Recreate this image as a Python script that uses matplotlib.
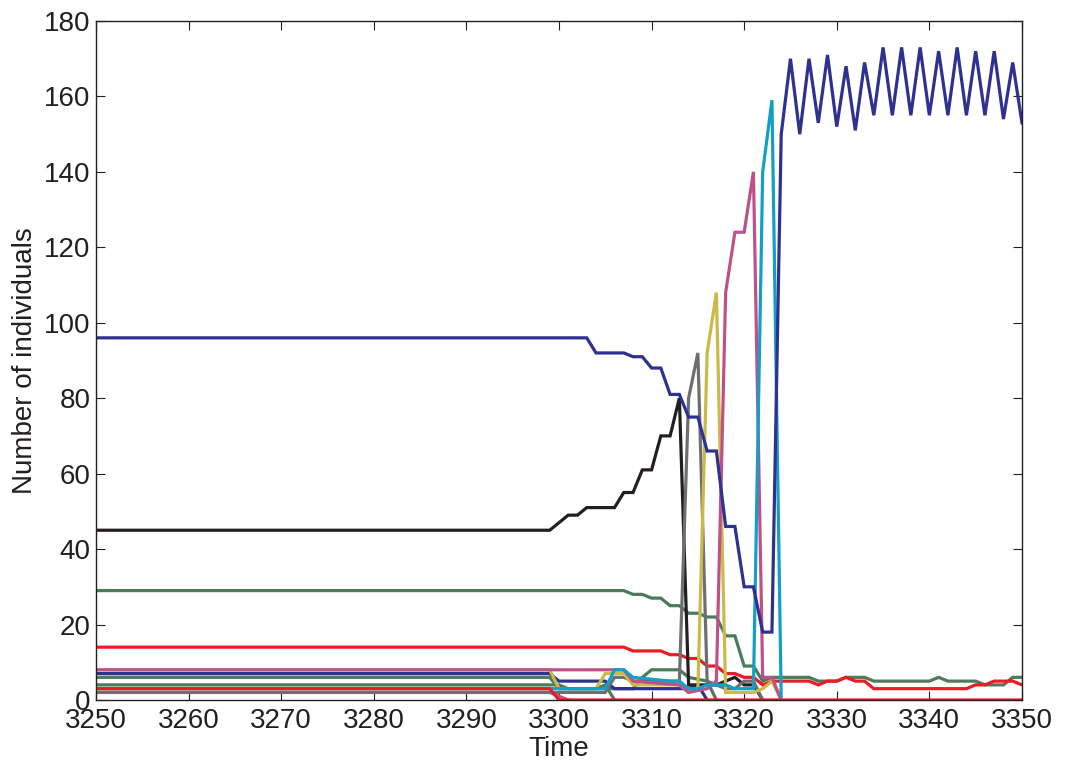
import matplotlib
matplotlib.use("Agg")
import matplotlib.pyplot as plt

# ---------------- data (time points, values) ----------------
blue_t = [3250, 3303, 3304, 3307, 3308, 3309, 3310, 3311, 3312, 3313, 3314, 3315,
          3316, 3317, 3318, 3319, 3320, 3321, 3322, 3323,
          3324, 3325, 3326, 3327, 3328, 3329, 3330, 3331, 3332, 3333, 3334, 3335,
          3336, 3337, 3338, 3339, 3340, 3341, 3342, 3343, 3344, 3345, 3346, 3347,
          3348, 3349, 3350]
blue_v = [96, 96, 92, 92, 91, 91, 88, 88, 81, 81, 75, 75,
          66, 66, 46, 46, 30, 30, 18, 18,
          150, 170, 150, 170, 153, 171, 152, 168, 151, 169, 155, 173,
          155, 173, 155, 173, 155, 172, 155, 173, 155, 172, 155, 172,
          154, 169, 153]

black_t = [3250, 3299, 3300, 3301, 3302, 3303, 3306, 3307, 3308, 3309, 3310, 3311,
           3312, 3313, 3314, 3315, 3316, 3317, 3318, 3319, 3320, 3321, 3322]
black_v = [45, 45, 47, 49, 49, 51, 51, 55, 55, 61, 61, 70,
           70, 80, 4, 4, 4, 4, 5, 6, 4, 4, 0]

green_t = [3250, 3307, 3308, 3309, 3310, 3311, 3312, 3313, 3314, 3315, 3316, 3317,
           3318, 3319, 3320, 3321, 3322, 3323, 3327, 3328, 3330, 3331, 3333, 3334,
           3340, 3341, 3342, 3345, 3346, 3348, 3349, 3350]
green_v = [29, 29, 28, 28, 27, 27, 25, 25, 23, 23, 22, 22,
           17, 17, 9, 9, 5, 6, 6, 5, 5, 6, 6, 5,
           5, 6, 5, 5, 4, 4, 6, 6]

red_t = [3250, 3307, 3308, 3311, 3312, 3313, 3314, 3315, 3316, 3317, 3318, 3319,
         3320, 3321, 3322, 3323, 3327, 3328, 3329, 3330, 3331, 3332, 3333, 3334,
         3344, 3345, 3346, 3347, 3349, 3350]
red_v = [14, 14, 13, 13, 12, 12, 11, 11, 9, 9, 7, 7,
         6, 6, 4, 5, 5, 4, 5, 5, 6, 5, 5, 3,
         3, 4, 4, 5, 5, 4]

gray_t = [3250, 3299, 3300, 3305, 3306, 3307, 3308, 3312, 3313, 3314, 3315, 3316,
          3317, 3318, 3319, 3320, 3321, 3322]
gray_v = [2, 2, 2, 2, 6, 6, 5, 5, 5, 80, 92, 5,
          4, 3, 3, 5, 5, 0]

yellow_t = [3250, 3299, 3300, 3304, 3305, 3307, 3308, 3313, 3314, 3315, 3316, 3317,
            3318, 3321, 3322, 3323, 3324]
yellow_v = [8, 8, 3, 3, 7, 7, 4, 4, 2, 3, 92, 108,
            2, 2, 3, 5, 0]

magenta_t = [3250, 3307, 3308, 3313, 3314, 3316, 3317, 3318, 3319, 3320, 3321, 3322,
             3323, 3324]
magenta_v = [8, 8, 5, 4, 2, 3, 5, 108, 124, 124, 140, 6,
             6, 0]

cyan_t = [3250, 3305, 3306, 3307, 3308, 3312, 3313, 3314, 3315, 3316, 3318, 3319,
          3321, 3322, 3323, 3324]
cyan_v = [3, 3, 8, 8, 6, 5, 5, 3, 3, 4, 4, 3,
          3, 140, 159, 0]

blue_s_t = [3250, 3299, 3300, 3305, 3306, 3314, 3315, 3316]
blue_s_v = [7, 7, 5, 5, 3, 3, 4, 0]

green_s1_t = [3250, 3299, 3300, 3304, 3305, 3306]
green_s1_v = [6, 6, 3, 3, 4, 0]

green_s2_t = [3250, 3300, 3301, 3308, 3309, 3310, 3313, 3314, 3316, 3317]
green_s2_v = [4, 4, 3, 3, 6, 8, 8, 6, 5, 0]

magenta_s_t = [3250, 3299, 3300, 3301]
magenta_s_v = [2, 2, 1, 0]

red0_t = [3250, 3299, 3300, 3350]
red0_v = [3, 3, 0, 0]

x_ticks = [3250, 3260, 3270, 3280, 3290, 3300, 3310, 3320, 3330, 3340, 3350]
y_ticks = [0, 20, 40, 60, 80, 100, 120, 140, 160, 180]

# ---------------- colours ----------------
C_BLUE = "#2E3192"
C_BLACK = "#231F20"
C_GREEN = "#4A7C5B"
C_RED = "#ED1C24"
C_GRAY = "#6D6E71"
C_YELLOW = "#CBBA48"
C_MAGENTA = "#C0508A"
C_CYAN = "#139FC8"

plt.rcParams['font.family'] = ['Liberation Sans', 'DejaVu Sans']

fig = plt.figure(figsize=(10.65, 7.63), dpi=100)
ax = fig.add_axes([0.0901, 0.0826, 0.8695, 0.8899])

lw = 2.3
series = [
    (magenta_s_t, magenta_s_v, C_MAGENTA),
    (green_s1_t, green_s1_v, C_GREEN),
    (green_s2_t, green_s2_v, C_GREEN),
    (blue_s_t, blue_s_v, C_BLUE),
    (green_t, green_v, C_GREEN),
    (red_t, red_v, C_RED),
    (black_t, black_v, C_BLACK),
    (gray_t, gray_v, C_GRAY),
    (yellow_t, yellow_v, C_YELLOW),
    (magenta_t, magenta_v, C_MAGENTA),
    (cyan_t, cyan_v, C_CYAN),
    (blue_t, blue_v, C_BLUE),
    (red0_t, red0_v, C_RED),
]
for t, v, c in series:
    ax.plot(t, v, color=c, lw=lw, solid_joinstyle='miter')

ax.set_xlim(3250, 3350)
ax.set_ylim(0, 180)
ax.set_xticks(x_ticks)
ax.set_yticks(y_ticks)
ax.tick_params(direction='in', length=6.5, width=0.8, top=True, right=True,
               labelsize=20, colors='#231F20')
ax.tick_params(axis='x', pad=6)
ax.tick_params(axis='y', pad=4)
for s in ax.spines.values():
    s.set_linewidth(1.0)
    s.set_color('#231F20')

ax.set_xlabel("Time", fontsize=20, labelpad=1, color='#231F20')
ax.set_ylabel("Number of individuals", fontsize=20, labelpad=4, color='#231F20')

fig.savefig("out.png", dpi=100)
